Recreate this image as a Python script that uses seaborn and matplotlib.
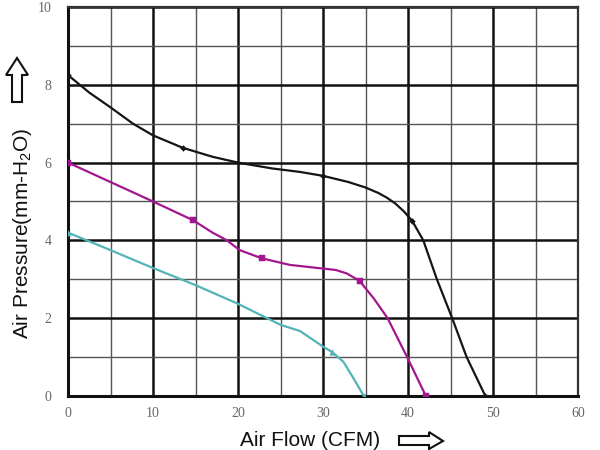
import numpy as np
import pandas as pd
import seaborn as sns
import matplotlib
matplotlib.use('Agg')
import matplotlib.pyplot as plt
from matplotlib.patches import Polygon

# curves (air flow CFM, pressure mm-H2O)
black_x = [0, 2.5, 5, 7.65, 10, 13.5, 17, 20, 24, 27.3, 30, 33, 35, 36.5, 37.5, 38.5, 39.5, 40.5, 41.8, 43.4, 45.2, 46.9, 49.1]
black_y = [8.25, 7.8, 7.42, 7.0, 6.7, 6.38, 6.15, 6.0, 5.85, 5.76, 5.66, 5.5, 5.36, 5.22, 5.1, 4.95, 4.75, 4.5, 4.0, 3.0, 2.0, 1.0, 0]
magenta_x = [0, 5, 10, 14.7, 17, 18.7, 20.2, 22.8, 26.1, 29, 31.5, 32.8, 34.3, 36, 37.6, 39.9, 42.1]
magenta_y = [6.0, 5.5, 5.0, 4.52, 4.2, 4.0, 3.75, 3.54, 3.37, 3.3, 3.24, 3.15, 2.96, 2.5, 2.0, 1.0, 0]
cyan_x = [0, 5, 10, 15, 20, 25, 27.3, 30, 31, 32.4, 33.6, 34.8]
cyan_y = [4.2, 3.75, 3.29, 2.85, 2.37, 1.83, 1.67, 1.27, 1.14, 0.88, 0.45, 0]

# points carrying a marker
black_mk = [0, 5, 10, 17, 22]      # indices into black_x
magenta_mk = [0, 3, 7, 12, 16]
cyan_mk = [0, 8, 11]

xticks = [0, 10, 20, 30, 40, 50, 60]
yticks = [0, 2, 4, 6, 8, 10]

sns.set_style('white')
plt.rcParams['font.family'] = ['Liberation Sans', 'DejaVu Sans']
plt.rcParams['mathtext.fontset'] = 'custom'
plt.rcParams['mathtext.rm'] = 'Liberation Sans'

fig = plt.figure(figsize=(6, 4.5), dpi=100)
ax = fig.add_axes([68 / 600, 1 - 396 / 450, 510 / 600, 389 / 450])

curves = [(black_x, black_y, black_mk, '#151515', 'D', 3),
          (magenta_x, magenta_y, magenta_mk, '#a3168f', 's', 4),
          (cyan_x, cyan_y, cyan_mk, '#52b4b6', '^', 4)]
for xs, ys, mk, col, m, ms in curves:
    df = pd.DataFrame({'flow': xs, 'pressure': ys})
    sns.lineplot(data=df, x='flow', y='pressure', sort=False, color=col, lw=1.6, ax=ax, zorder=5)
    sub = df.iloc[mk]
    sns.scatterplot(data=sub, x='flow', y='pressure', color=col, marker=m, s=ms ** 2, edgecolor=col, ax=ax, zorder=6)

ax.set_xlim(0, 60)
ax.set_ylim(0, 10)
ax.set_xticks(xticks)
ax.set_yticks(yticks)
ax.set_xticks(np.arange(5, 60, 10), minor=True)
ax.set_yticks(np.arange(1, 10, 2), minor=True)
ax.grid(which='major', color='#111111', lw=1.8)
ax.grid(which='minor', color='#555555', lw=1.0)
ax.set_axisbelow(True)
for s in ['left', 'bottom']:
    ax.spines[s].set_linewidth(2.2)
    ax.spines[s].set_color('#111111')
for s in ['top', 'right']:
    ax.spines[s].set_linewidth(1.6)
    ax.spines[s].set_color('#333333')
ax.tick_params(which='both', length=0)
ax.tick_params(axis='x', pad=8)
ax.tick_params(axis='y', pad=12)
for lab in ax.get_xticklabels() + ax.get_yticklabels():
    lab.set_family('Liberation Serif')
    lab.set_color('#666666')
    lab.set_fontsize(10)
ax.set_xlabel('')
ax.set_ylabel('')

fig.text(310 / 600, 1 - 440 / 450, 'Air Flow (CFM)', ha='center', va='center', fontsize=15, color='#111111')
fig.text(23 / 600, 1 - 233 / 450, 'Air Pressure(mm-H$_\\mathregular{2}$O)', ha='center', va='center',
         rotation=90, fontsize=15, color='#111111')

# hollow arrows next to the axis titles (pixel positions -> figure fraction)
def px(pts):
    return [(x / 600, 1 - y / 450) for x, y in pts]

up = px([(17, 58), (28, 75), (22, 75), (22, 102), (12, 102), (12, 75), (6, 75)])
right = px([(399, 436), (429, 436), (429, 432), (443, 441), (429, 449), (429, 445), (399, 445)])
for pts in (up, right):
    fig.patches.append(Polygon(pts, closed=True, facecolor='white', edgecolor='#111111', lw=1.5,
                               transform=fig.transFigure, figure=fig))

fig.savefig('out.png', dpi=100)
